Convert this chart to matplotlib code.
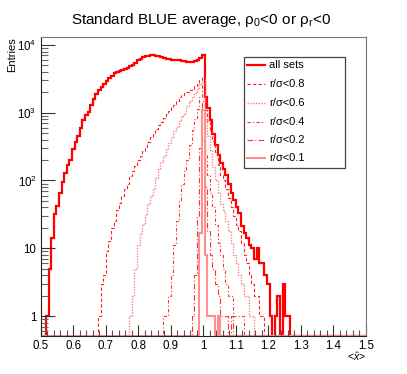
import numpy as np
import matplotlib
matplotlib.use('Agg')
import matplotlib.pyplot as plt
from matplotlib.lines import Line2D
from matplotlib.patches import Rectangle
from matplotlib.ticker import FixedLocator, MultipleLocator, FuncFormatter

plt.rcParams['font.family'] = ['Liberation Sans', 'DejaVu Sans']
plt.rcParams['mathtext.fontset'] = 'custom'
plt.rcParams['mathtext.rm'] = 'Liberation Sans'
plt.rcParams['mathtext.it'] = 'Liberation Sans:italic'

# histogram binning: 125 bins of 0.008 between 0.5 and 1.5
x_lo, x_hi, n_bins = 0.5, 1.5, 125

# each series: lower edge of the first filled bin + contents of consecutive bins
all_start = 0.516
all_vals = [1, 5, 14, 32, 42, 65, 95, 130, 170, 200, 290, 370, 450, 600, 780, 920,
            1030, 1300, 1600, 1900, 2150, 2420, 2700, 2950, 3250, 3500, 3800, 3950,
            4100, 4250, 4400, 4600, 4850, 5150, 5500, 5900, 6250, 6600, 6800, 6950,
            7000, 7000, 6950, 6800, 6600, 6450, 6300, 6200, 6100, 6050, 6000, 5950,
            5850, 5750, 5700, 5650, 5700, 5850, 6000, 6500, 7100,
            1720, 1160, 780, 480, 330, 240, 180, 150, 120, 90, 65, 52, 40, 33, 21,
            17, 14, 11, 10, 7, 10, 6, 6, 4, 3, 1, 0, 1, 2, 0, 3, 1, 1]

r08_start = 0.676
r08_vals = [1, 3, 4, 9, 13, 20, 25, 37, 46, 60, 75, 90, 115, 140, 165, 200, 230,
            270, 300, 370, 440, 480, 580, 650, 720, 850, 970, 1050, 1200, 1300,
            1500, 1700, 1800, 1950, 2050, 2150, 2250, 2450, 2700, 3000, 3400,
            1100, 750, 520, 380, 260, 170, 120, 100, 75, 55, 40, 30, 22, 18, 12,
            8, 6, 4, 3, 2, 2, 1, 1]

r06_start = 0.772
r06_vals = [1, 2, 5, 11, 17, 23, 31, 45, 60, 75, 110, 150, 190, 230, 290, 360,
            430, 530, 620, 750, 880, 1000, 1250, 1500, 1700, 1950, 2250, 2650, 3050,
            800, 450, 280, 160, 100, 65, 45, 35, 25, 18, 12, 8, 6, 4, 3, 2, 2, 1, 1]

r04_start = 0.876
r04_vals = [1, 1, 2, 4, 11, 25, 50, 90, 140, 200, 330, 550, 800, 1150, 1700, 2700,
            250, 120, 65, 40, 22, 12, 8, 5, 3, 2, 2, 1, 1, 1, 1]

r02_start = 0.964
r02_vals = [1, 4, 30, 300, 1500, 80, 18, 8, 5, 3, 2, 1, 1, 1, 0, 1]

r01_start = 0.988
r01_vals = [17, 1100, 8, 1, 1, 1, 0, 1]

y_min, y_max = 0.507, 13100

edges = np.linspace(x_lo, x_hi, n_bins + 1)


def full_hist(start, vals):
    h = np.zeros(n_bins)
    i0 = int(round((start - x_lo) / 0.008))
    h[i0:i0 + len(vals)] = vals
    # empty bins are drawn along the bottom of the frame, as ROOT does
    return np.where(h > 0, h, y_min)


fig = plt.figure(figsize=(4.07, 3.74), dpi=100)
ax = fig.add_axes([0.1, 0.1016, 0.799, 0.7994])

styles = [
    ('all sets', all_start, all_vals, dict(color='#ff0000', lw=1.6, ls='-')),
    ('r/σ<0.8', r08_start, r08_vals, dict(color='#ff2020', lw=0.8, ls=(0, (3, 2)))),
    ('r/σ<0.6', r06_start, r06_vals, dict(color='#ff8080', lw=1.0, ls=(0, (1, 1)))),
    ('r/σ<0.4', r04_start, r04_vals, dict(color='#ff3030', lw=0.8, ls=(0, (3, 2, 1, 2)))),
    ('r/σ<0.2', r02_start, r02_vals, dict(color='#ff3030', lw=0.8, ls=(0, (5, 2, 1, 2)))),
    ('r/σ<0.1', r01_start, r01_vals, dict(color='#ff8f8f', lw=1.5, ls='-')),
]

for label, start, vals, st in styles:
    ax.stairs(full_hist(start, vals), edges, baseline=None, **st)

ax.set_yscale('log')
ax.set_xlim(x_lo, x_hi)
ax.set_ylim(y_min, y_max)

ax.xaxis.set_major_locator(MultipleLocator(0.1))
ax.xaxis.set_minor_locator(MultipleLocator(0.02))
ax.xaxis.set_major_formatter(FuncFormatter(lambda v, p: f'{v:g}'))
ax.yaxis.set_major_locator(FixedLocator([1, 10, 100, 1000, 10000]))
minors = [m * 10 ** d for d in range(-1, 5) for m in range(2, 10)]
ax.yaxis.set_minor_locator(FixedLocator(minors))
ylabels = {1: '1', 10: '10', 100: '$10^{2}$', 1000: '$10^{3}$', 10000: '$10^{4}$'}
ax.yaxis.set_major_formatter(FuncFormatter(lambda v, p: ylabels.get(int(round(v)), '')))
ax.yaxis.set_minor_formatter(FuncFormatter(lambda v, p: ''))

ax.tick_params(which='both', direction='in', top=False, right=False, labelsize=8.3, pad=3)
ax.tick_params(axis='x', which='major', length=8, width=0.8, color='#333333')
ax.tick_params(axis='x', which='minor', length=4, width=0.8, color='#555555')
ax.tick_params(axis='y', which='major', length=10, width=0.8, color='#333333')
ax.tick_params(axis='y', which='minor', length=5, width=0.8, color='#666666')
for side in ['top', 'right']:
    ax.spines[side].set_color('#777777')
for side in ['left', 'bottom']:
    ax.spines[side].set_color('#222222')

fig.text(0.495, 0.947, 'Standard BLUE average, ρ$_{0}$<0 or ρ$_{\\mathrm{r}}$<0',
         ha='center', va='center', fontsize=11)
fig.text(12 / 407, 1 - 37 / 374, 'Entries', rotation=90, ha='center', va='top', fontsize=8)
fig.text(366 / 407, 1 - 357 / 374, '<$\\hat{x}$>', ha='right', va='center', fontsize=7.5)

# legend box, ROOT style
fig.patches.append(Rectangle((244 / 407, 1 - 168 / 374), 101 / 407, 111 / 374,
                             transform=fig.transFigure, facecolor='white',
                             edgecolor='#444444', lw=0.9))
row_y = [65, 84, 103, 122, 140, 158]
for (label, start, vals, st), yy in zip(styles, row_y):
    yf = 1 - yy / 374
    fig.lines.append(Line2D([247 / 407, 265 / 407], [yf, yf], transform=fig.transFigure,
                            color=st['color'], lw=st['lw'], ls=st['ls']))
    fig.text(269 / 407, yf, label, ha='left', va='center', fontsize=8)

fig.savefig('out.png', dpi=100)
